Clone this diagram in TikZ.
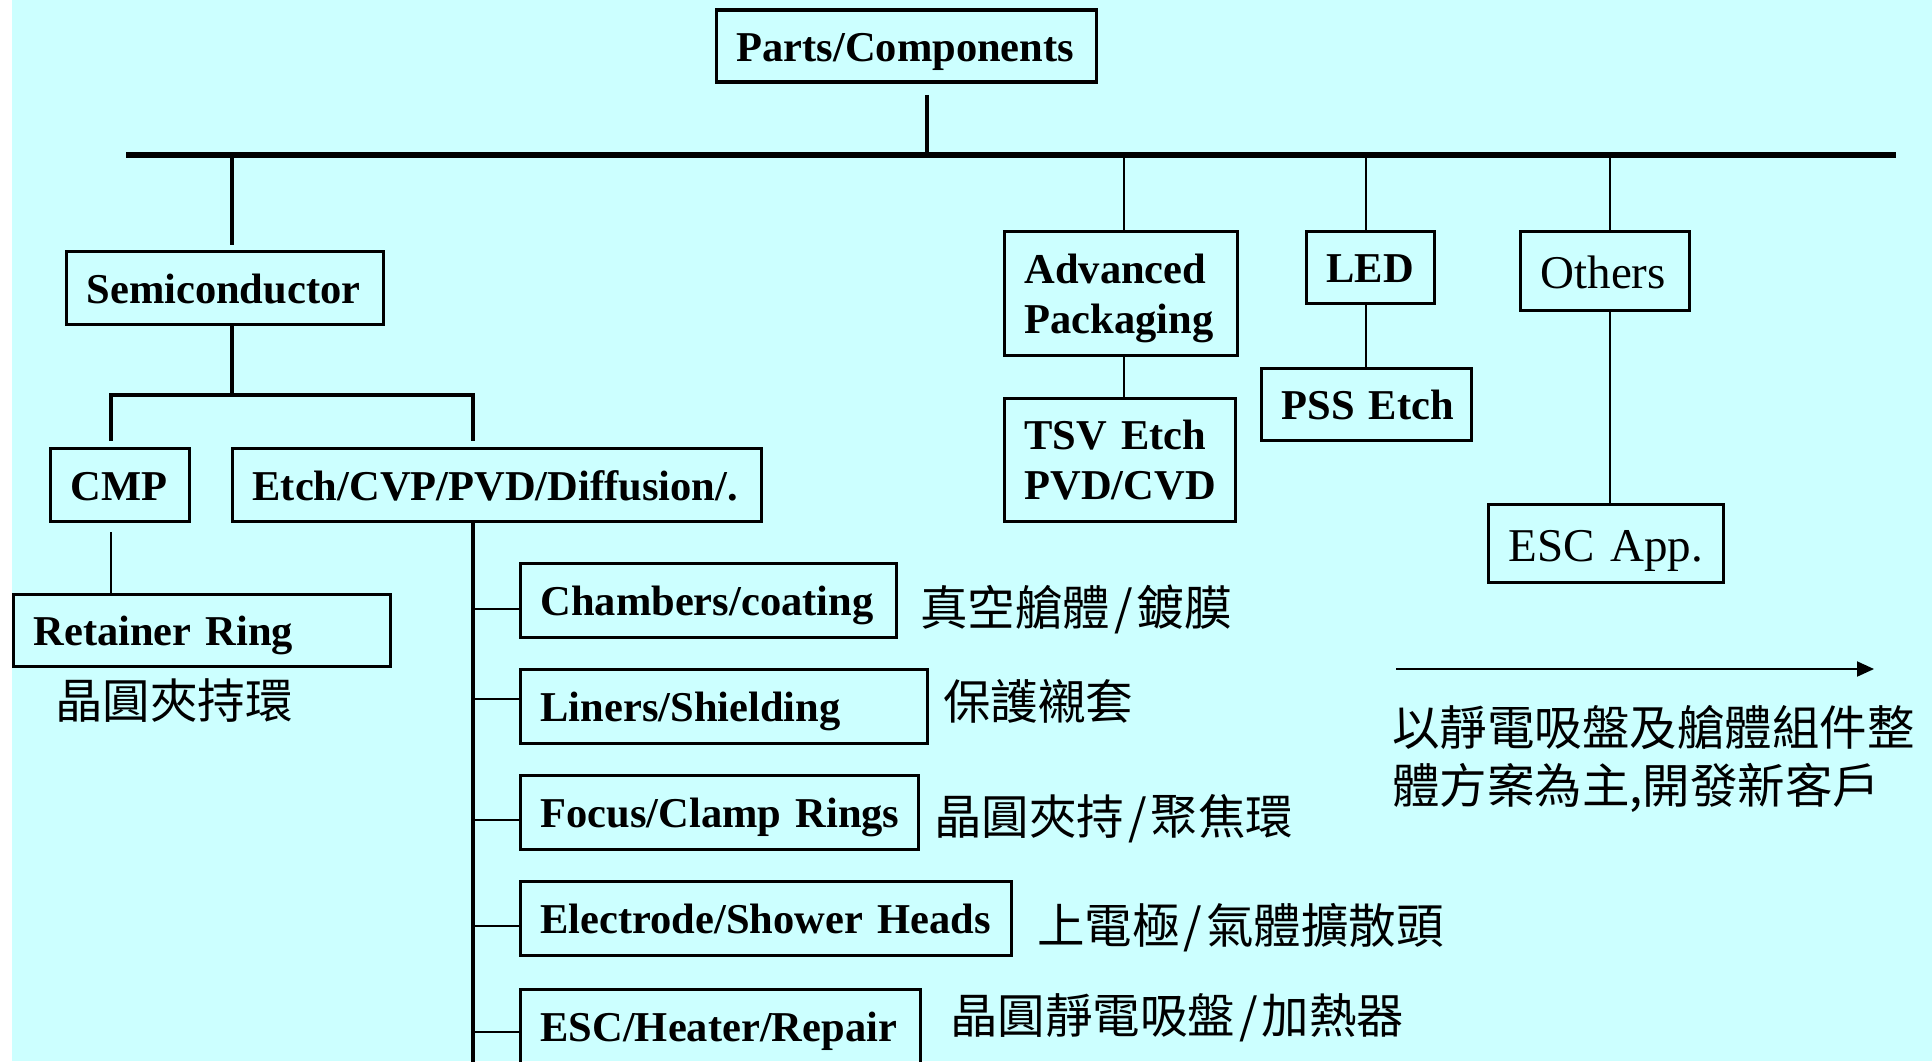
\documentclass[tikz,border=0pt]{standalone}
\usepackage{fontspec}
\setmainfont{Liberation Serif}
\newfontfamily\cjk{Noto Sans CJK TC}
\usetikzlibrary{arrows.meta}
\definecolor{bgcyan}{RGB}{204,255,255}
\begin{document}
\begin{tikzpicture}[x=1pt,y=-1pt,
  box/.style={draw=black, line width=3.5pt, inner sep=0pt, align=left,
    font=\fontsize{42.5}{50}\selectfont\bfseries, text height=30pt, text depth=0pt},
  rbox/.style={box, font=\fontsize{47}{54}\selectfont, text height=35pt},
  twoline/.style={text height=30pt, text depth=51pt},
  cjklbl/.style={anchor=west, inner sep=0pt, font=\cjk\fontsize{47.5}{56}\selectfont,
    text height=41pt, text depth=5pt},
  thin/.style={line width=1.6pt},
  mid/.style={line width=3.5pt},
  branch/.style={line width=2.5pt}]
\useasboundingbox (0,0) rectangle (1932,1061);
\fill[white] (0,0) rectangle (1932,1061);
\fill[bgcyan] (12,0) rectangle (1932,1061);

% boxes
\node[box, minimum width=380pt, minimum height=72pt, text width=340pt] (parts) at (906.5,46) {\mbox{Parts/Components}};
\node[box, minimum width=317pt, minimum height=73pt, text width=277pt] (semi) at (225,288) {\mbox{Semiconductor}};
\node[box, minimum width=139pt, minimum height=73pt, text width=99pt] (cmp) at (120,485) {\mbox{CMP}};
\node[box, minimum width=529pt, minimum height=73pt, text width=489pt] (etch) at (497,485) {\mbox{Etch/CVP/PVD/Diffusion/.}};
\node[box, minimum width=377pt, minimum height=72pt, text width=337pt] (retainer) at (202,630.5) {\mbox{Retainer Ring}};
\node[box, minimum width=376pt, minimum height=74pt, text width=336pt] (chambers) at (708.5,600.5) {\mbox{Chambers/coating}};
\node[box, minimum width=407pt, minimum height=74pt, text width=367pt] (liners) at (724,706.5) {\mbox{Liners/Shielding}};
\node[box, minimum width=398pt, minimum height=74pt, text width=358pt] (focus) at (719.5,812.5) {\mbox{Focus/Clamp Rings}};
\node[box, minimum width=491pt, minimum height=74pt, text width=451pt] (electrode) at (766,918.5) {\mbox{Electrode/Shower Heads}};
\node[box, minimum width=400pt, minimum height=74pt, text width=360pt] (eschr) at (720.5,1026.5) {\mbox{ESC/Heater/Repair}};
\node[box, twoline, minimum width=233pt, minimum height=124pt, text width=193pt] (ap) at (1121,293.5) {\mbox{Advanced}\\\mbox{Packaging}};
\node[box, twoline, minimum width=231pt, minimum height=123pt, text width=191pt] (tsv) at (1120,460) {\mbox{TSV Etch}\\\mbox{PVD/CVD}};
\node[box, minimum width=128pt, minimum height=72pt, text width=88pt] (led) at (1370.5,267.5) {\mbox{LED}};
\node[box, minimum width=210pt, minimum height=72pt, text width=170pt] (pss) at (1366.5,404.5) {\mbox{PSS Etch}};
\node[rbox, minimum width=169pt, minimum height=79pt, text width=129pt] (others) at (1605,271) {\mbox{Others}};
\node[rbox, minimum width=235pt, minimum height=78pt, text width=195pt] (escapp) at (1606,543.5) {\mbox{ESC App.}};

% Chinese labels
\node[cjklbl] (cRet) at (55,700) {晶圓夾持環};
\node[cjklbl] (c1) at (920,607) {真空艙體{\kern4pt/\kern4pt}鍍膜};
\node[cjklbl] (c2) at (943,701) {保護襯套};
\node[cjklbl] (c3) at (934,816) {晶圓夾持{\kern4pt/\kern4pt}聚焦環};
\node[cjklbl] (c4) at (1037,925) {上電極{\kern4pt/\kern4pt}氣體擴散頭};
\node[cjklbl] (c5) at (950,1015) {晶圓靜電吸盤{\kern4pt/\kern4pt}加熱器};
\node[cjklbl] (r1) at (1392,727) {以靜電吸盤及艙體組件整};
\node[cjklbl] (r2) at (1392,785) {體方案為主,開發新客戶};

% junction coordinates
\coordinate (busL) at (126,155);
\coordinate (busR) at (1896,155);
\coordinate (jP) at (927,155);
\coordinate (jS) at (232,155);
\coordinate (jA) at (1124,155);
\coordinate (jL) at (1366,155);
\coordinate (jO) at (1610,155);
\coordinate (jSem) at (232,395);
\coordinate (jC) at (111,395);
\coordinate (jE) at (473,395);
\coordinate (trunkEnd) at (473,1075);
\coordinate (b1) at (473,609);
\coordinate (b2) at (473,699);
\coordinate (b3) at (473,820);
\coordinate (b4) at (473,926);
\coordinate (b5) at (473,1032);
\coordinate (arrS) at (1396,669);
\coordinate (arrE) at (1874,669);

% connectors
\draw[line width=5.5pt] (busL) -- (busR);
\draw[line width=4pt, shorten <=11pt] (jP |- parts.south) -- (jP);
\draw[mid, shorten >=5pt] (jS) -- (jS |- semi.north);
\draw[mid] (jSem |- semi.south) -- (jSem);
\draw[mid, shorten <=6pt, shorten >=6pt] (jC |- cmp.north) -- (jC) -- (jE) -- (jE |- etch.north);
\draw[thin, shorten <=9pt] (jC |- cmp.south) -- (jC |- retainer.north);
\draw[mid] (jE |- etch.south) -- (trunkEnd);
\draw[branch] (b1) -- (b1 -| chambers.west);
\draw[branch] (b2) -- (b2 -| liners.west);
\draw[branch] (b3) -- (b3 -| focus.west);
\draw[branch] (b4) -- (b4 -| electrode.west);
\draw[branch] (b5) -- (b5 -| eschr.west);
\draw[thin] (jA) -- (jA |- ap.north);
\draw[thin] (jA |- ap.south) -- (jA |- tsv.north);
\draw[thin] (jL) -- (jL |- led.north);
\draw[thin] (jL |- led.south) -- (jL |- pss.north);
\draw[thin] (jO) -- (jO |- others.north);
\draw[thin] (jO |- others.south) -- (jO |- escapp.north);
\draw[line width=2pt, -{Triangle[length=17pt,width=15pt]}] (arrS) -- (arrE);
\end{tikzpicture}
\end{document}
